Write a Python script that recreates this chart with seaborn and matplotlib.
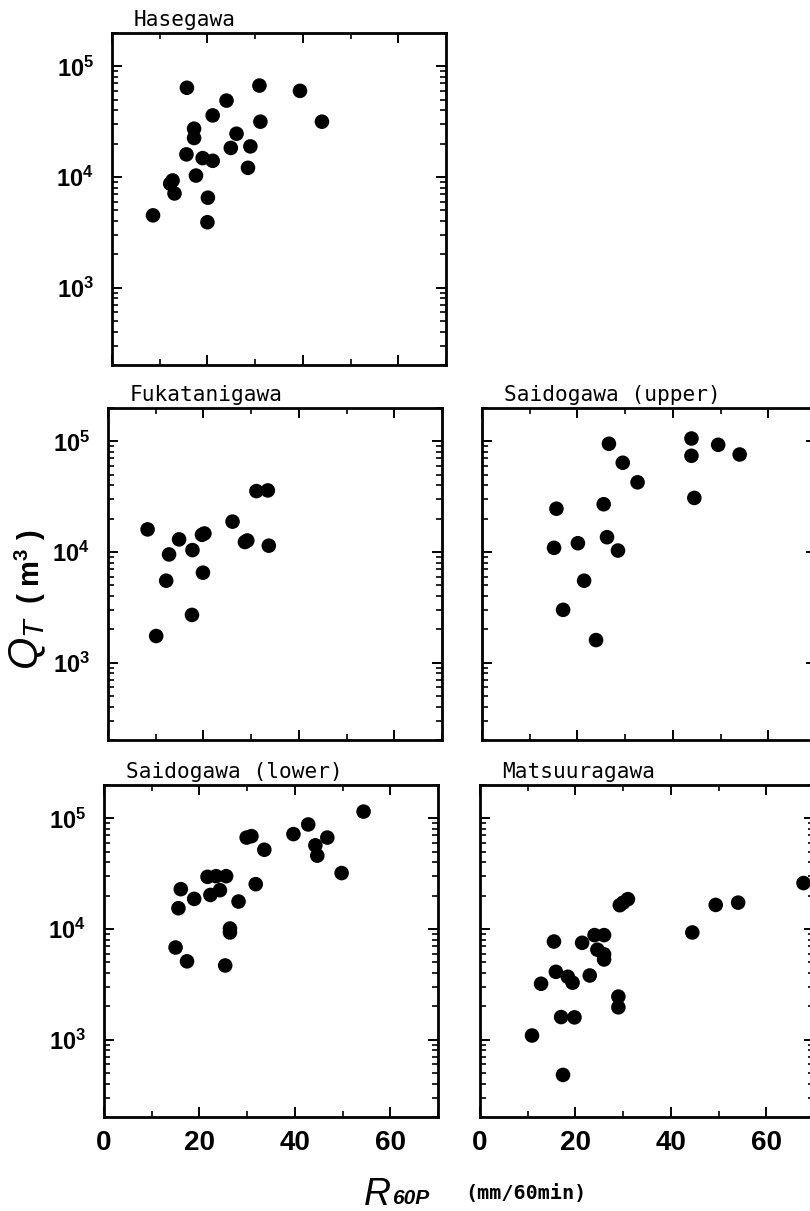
import math
import matplotlib
matplotlib.use("Agg")
import matplotlib.pyplot as plt
import seaborn as sns
import pandas as pd
from matplotlib.ticker import FixedLocator, MultipleLocator, NullFormatter, FuncFormatter, LogLocator

# ---------------- data ----------------
hase_x = [15.7, 30.9, 39.4, 24.0, 21.1, 31.1, 44.0, 17.2, 17.2, 26.1, 24.9, 29.0,
          15.6, 19.0, 21.1, 28.5, 17.6, 12.7, 12.2, 13.1, 20.1, 8.6, 20.0]
hase_y = [6.4e4, 6.7e4, 6.0e4, 4.9e4, 3.6e4, 3.16e4, 3.16e4, 2.73e4, 2.25e4, 2.46e4, 1.83e4, 1.89e4,
          1.6e4, 1.48e4, 1.4e4, 1.21e4, 1.03e4, 9.3e3, 8.7e3, 7.1e3, 6.5e3, 4.5e3, 3.9e3]

fuka_x = [8.3, 10.1, 12.2, 12.8, 14.9, 17.7, 17.6, 19.7, 20.2, 19.9, 26.1, 28.7, 29.2, 31.1, 33.5, 33.7]
fuka_y = [1.6e4, 1.74e3, 5.5e3, 9.5e3, 1.3e4, 1.04e4, 2.7e3, 1.43e4, 1.47e4, 6.5e3, 1.88e4, 1.23e4,
          1.27e4, 3.55e4, 3.6e4, 1.14e4]

sup_x = [26.6, 43.9, 49.5, 43.9, 54.0, 29.5, 32.6, 44.5, 15.6, 25.5, 26.2, 20.1, 15.1, 28.5, 21.4, 17.0, 23.9]
sup_y = [9.5e4, 1.06e5, 9.3e4, 7.4e4, 7.6e4, 6.4e4, 4.26e4, 3.08e4, 2.46e4, 2.7e4, 1.36e4, 1.2e4,
         1.09e4, 1.03e4, 5.5e3, 3.0e3, 1.6e3]

slo_x = [54.4, 42.8, 39.7, 46.8, 29.9, 30.9, 33.6, 44.3, 44.7, 49.8, 21.7, 23.5, 25.6, 31.8, 16.1,
         22.3, 24.3, 18.9, 28.2, 15.6, 26.4, 26.4, 15.0, 17.4, 25.4]
slo_y = [1.15e5, 8.8e4, 7.2e4, 6.7e4, 6.7e4, 6.9e4, 5.2e4, 5.7e4, 4.6e4, 3.2e4, 2.96e4, 3.0e4, 3.0e4,
         2.54e4, 2.29e4, 2.03e4, 2.24e4, 1.87e4, 1.77e4, 1.54e4, 1.01e4, 9.3e3, 6.8e3, 5.1e3, 4.68e3]

mat_x = [67.8, 54.1, 49.4, 31.0, 30.0, 29.3, 44.5, 15.5, 21.4, 24.0, 26.0, 24.6, 26.0, 26.0, 15.9,
         12.8, 18.4, 19.4, 23.0, 29.0, 29.0, 17.0, 19.8, 10.9, 17.4]
mat_y = [2.6e4, 1.73e4, 1.65e4, 1.86e4, 1.73e4, 1.64e4, 9.3e3, 7.7e3, 7.5e3, 8.8e3, 8.8e3, 6.5e3,
         5.9e3, 5.3e3, 4.1e3, 3.2e3, 3.7e3, 3.27e3, 3.8e3, 2.45e3, 1.96e3, 1.6e3, 1.59e3, 1.09e3, 4.8e2]

titles = ["Hasegawa", "Fukatanigawa", "Saidogawa (upper)", "Saidogawa (lower)", "Matsuuragawa"]
x_ticks = [0, 20, 40, 60]
y_ticks = [1e3, 1e4, 1e5]

# ---------------- style ----------------
sns.set_theme(style="ticks")
plt.rcParams.update({
    "font.family": ["Liberation Sans", "DejaVu Sans"],
    "mathtext.fontset": "custom",
    "mathtext.rm": "Liberation Sans:bold",
    "mathtext.it": "Liberation Sans:italic",
    "mathtext.bf": "Liberation Sans:bold",
    "axes.linewidth": 2.0,
    "axes.edgecolor": "black",
})

fig = plt.figure(figsize=(8.1, 12.11), dpi=100)
W, H = 810.0, 1211.0
AW, AH = 334.0, 332.0


def make_ax(left_px, top_px):
    return fig.add_axes([left_px / W, 1 - (top_px + AH) / H, AW / W, AH / H])


panels = [
    (make_ax(112, 33), hase_x, hase_y, titles[0], True, False),
    (make_ax(108, 408), fuka_x, fuka_y, titles[1], True, False),
    (make_ax(482, 408), sup_x, sup_y, titles[2], False, False),
    (make_ax(104, 785), slo_x, slo_y, titles[3], True, True),
    (make_ax(480, 785), mat_x, mat_y, titles[4], False, True),
]

ylab_fmt = FuncFormatter(lambda v, p: r"$10^{%d}$" % round(math.log10(v)))

for ax, xs, ys, title, ylab, xlab in panels:
    df = pd.DataFrame({"R60P": xs, "QT": ys})
    sns.scatterplot(data=df, x="R60P", y="QT", ax=ax, color="black", s=110,
                    edgecolor="none", linewidth=0, legend=False, clip_on=False, zorder=3)
    ax.set_yscale("log")
    ax.set_xlim(0, 70)
    ax.set_ylim(200, 2e5)
    ax.set_xlabel("")
    ax.set_ylabel("")
    for s in ax.spines.values():
        s.set_visible(True)
        s.set_linewidth(2.0)
    ax.xaxis.set_major_locator(FixedLocator(x_ticks))
    ax.xaxis.set_minor_locator(MultipleLocator(10))
    ax.yaxis.set_major_locator(FixedLocator(y_ticks))
    ax.yaxis.set_minor_locator(LogLocator(base=10, subs=[2, 3, 4, 5, 6, 7, 8, 9]))
    ax.yaxis.set_minor_formatter(NullFormatter())
    ax.tick_params(which="both", direction="in", top=True, right=True, color="black")
    ax.tick_params(which="major", length=7, width=1.4)
    ax.tick_params(which="minor", length=4, width=1.2)
    if ylab:
        ax.yaxis.set_major_formatter(ylab_fmt)
        ax.tick_params(axis="y", which="major", labelsize=17, pad=13, labelcolor="black")
    else:
        ax.tick_params(axis="y", labelleft=False)
    if xlab:
        ax.tick_params(axis="x", which="major", labelsize=20, pad=9, labelcolor="black")
        for lab in ax.get_xticklabels():
            lab.set_fontweight("bold")
    else:
        ax.tick_params(axis="x", labelbottom=False)
    ax.text(0.066, 1.022, title, transform=ax.transAxes, ha="left", va="baseline",
            fontsize=15.2, family="DejaVu Sans Mono", color="black")

# axis labels
fig.text(28 / W, 1 - 643 / H, r"$Q_T$", rotation=90, ha="center", va="center", fontsize=30, color="black")
fig.text(30 / W, 1 - 567 / H, "( m$^3$ )", rotation=90, ha="center", va="center",
         fontsize=21, fontweight="bold", color="black")
fig.text(364 / W, 1 - 1205 / H, "R", ha="left", va="baseline", style="italic",
         fontsize=27, color="black")
fig.text(392 / W, 1 - 1204 / H, "60P", ha="left", va="baseline", style="italic",
         fontweight="bold", fontsize=15, color="black")
fig.text(526 / W, 1 - 1194 / H, "(mm/60min)", ha="center", va="center", fontsize=14.5,
         family="DejaVu Sans Mono", fontweight="bold", color="black")

fig.savefig("out.png", dpi=100, facecolor="white")
